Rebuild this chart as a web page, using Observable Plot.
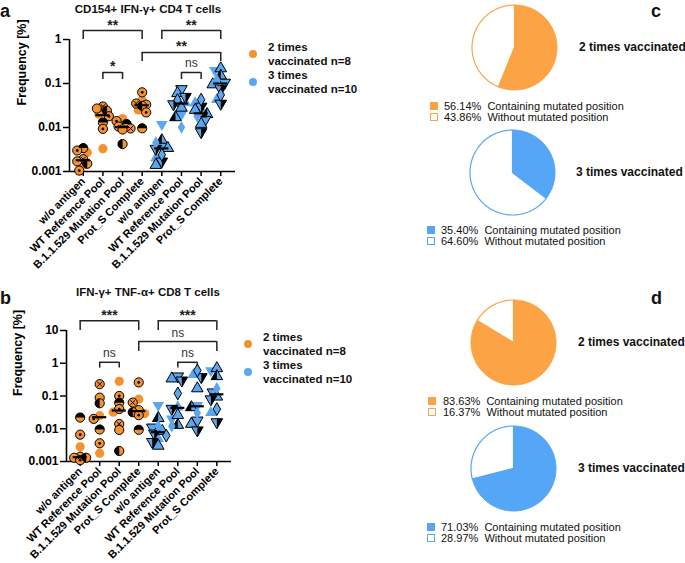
<!DOCTYPE html>
<html><head><meta charset="utf-8">
<script src="https://cdn.jsdelivr.net/npm/d3@7"></script>
<script src="https://cdn.jsdelivr.net/npm/@observablehq/plot@0.6"></script>
<style>
html,body{margin:0;padding:0;background:#fff;}
#fig{position:relative;width:685px;height:563px;overflow:hidden;font-family:"Liberation Sans",Arial,Helvetica,sans-serif;color:#111;}
#fig > *{position:absolute;}
.t{white-space:pre;line-height:1;transform:translateY(-50%);}
#fig svg g[aria-label$="tick label"]{font-weight:bold;}
</style></head><body><div id="fig"></div>
<script>
// ---------- data ----------
const categories = ["w/o antigen", "WT Reference Pool", "B.1.1.529 Mutation Pool", "Prot_S Complete"];
const groupNames = ["2 times\nvaccinated n=8", "3 times\nvaccinated n=10"];

// panel a: CD154+ IFN-γ+ CD4 T cells, frequency [%], one list per stimulus
const cd4Twice = [
  [0.0034, 0.003, 0.0027, 0.0019, 0.0017, 0.0015, 0.0014, 0.00105],
  [0.03, 0.027, 0.024, 0.02, 0.018, 0.013, 0.0093, 0.0033],
  [0.016, 0.014, 0.012, 0.0105, 0.0099, 0.0095, 0.009, 0.0042],
  [0.063, 0.042, 0.035, 0.033, 0.031, 0.025, 0.022, 0.0096]
];
const cd4Thrice = [
  [0.0118, 0.0051, 0.0045, 0.0037, 0.0034, 0.0033, 0.0024, 0.002, 0.0017, 0.0014],
  [0.075, 0.06, 0.05, 0.042, 0.036, 0.034, 0.028, 0.02, 0.017, 0.0101],
  [0.043, 0.036, 0.03, 0.025, 0.022, 0.02, 0.018, 0.015, 0.012, 0.0079],
  [0.22, 0.2, 0.15, 0.12, 0.105, 0.095, 0.075, 0.055, 0.043, 0.035]
];
// panel b: IFN-γ+ TNF-α+ CD8 T cells
const cd8Twice = [
  [0.022, 0.0066, 0.0028, 0.0014, 0.0013, 0.0013, 0.0012, 0.0011],
  [0.23, 0.089, 0.06, 0.025, 0.02, 0.0095, 0.0036, 0.0018],
  [0.28, 0.1, 0.062, 0.04, 0.032, 0.014, 0.0092, 0.0021],
  [0.26, 0.08, 0.063, 0.037, 0.032, 0.029, 0.026, 0.0093]
];
const cd8Thrice = [
  [0.052, 0.021, 0.012, 0.011, 0.0085, 0.0072, 0.0062, 0.005, 0.004, 0.003],
  [0.4, 0.34, 0.3, 0.12, 0.046, 0.041, 0.026, 0.02, 0.013, 0.012],
  [0.6, 0.45, 0.38, 0.17, 0.052, 0.045, 0.03, 0.018, 0.014, 0.009],
  [0.7, 0.6, 0.4, 0.17, 0.13, 0.095, 0.08, 0.04, 0.031, 0.016]
];
const cd4Ticks = [0.001, 0.01, 0.1, 1];
const cd8Ticks = [0.001, 0.01, 0.1, 1, 10];

// significance brackets (category index 1..8, bracket level and foot in data units)
const cd4Sig = [
  {from: 1, to: 4, top: 1.6, foot: 1.0, label: "**"},
  {from: 5, to: 8, top: 1.6, foot: 1.0, label: "**"},
  {from: 4, to: 8, top: 0.507, foot: 0.316, label: "**"},
  {from: 2, to: 3, top: 0.178, foot: 0.123, label: "*"},
  {from: 6, to: 7, top: 0.178, foot: 0.123, label: "ns"}
];
const cd8Sig = [
  {from: 1, to: 4, top: 20, foot: 10, label: "***"},
  {from: 5, to: 8, top: 20, foot: 10, label: "***"},
  {from: 4, to: 8, top: 4.6, foot: 2.3, label: "ns"},
  {from: 2, to: 3, top: 1.07, foot: 0.71, label: "ns"},
  {from: 6, to: 7, top: 1.07, foot: 0.71, label: "ns"}
];

// pies
const pieLabels = ["Containing mutated position", "Without mutated position"];
const pieTitles = ["2 times vaccinated", "3 times vaccinated"];
const cTwice = [56.14, 43.86];
const cThrice = [35.40, 64.60];
const dTwice = [83.63, 16.37];
const dThrice = [71.03, 28.97];

// ---------- styles ----------
const ORANGE = "#F6922E", BLUE = "#5AA6F0", PIE_ORANGE = "#FBA345", PIE_BLUE = "#56A6F8";
const circleStyles = ["halfTop", "dot", "plain", "cross", "ring", "halfLeft", "plain", "dot"];
const triStyles = [
  ["down", "plain"], ["up", "half"], ["diamond", "plain"], ["down", "stroke"], ["up", "stroke"],
  ["down", "half"], ["diamond", "stroke"], ["up", "plain"], ["down", "half"], ["up", "stroke"]
];
const fig = document.getElementById("fig");
const FONT = "Liberation Sans, Arial, Helvetica, sans-serif";

function addText(str, left, cy, size, weight, extra = {}) {
  const el = document.createElement("div");
  el.className = "t";
  el.textContent = str;
  Object.assign(el.style, {left: left + "px", top: cy + "px", fontSize: size + "px", fontWeight: weight}, extra);
  fig.appendChild(el);
  return el;
}
function place(node, left, top) {
  node.style.position = "absolute";
  node.style.left = left + "px";
  node.style.top = top + "px";
  fig.appendChild(node);
}

const halfCircle = {draw(ctx, size) { const r = Math.sqrt(size / Math.PI); ctx.moveTo(r, 0); ctx.arc(0, 0, r, 0, Math.PI, true); ctx.closePath(); }};
const sqrt3 = Math.sqrt(3);
const halfTri = {draw(ctx, size) { const y = -Math.sqrt(size / (sqrt3 * 3)); ctx.moveTo(0, y * 2); ctx.lineTo(0, -y); ctx.lineTo(sqrt3 * y, -y); ctx.closePath(); }};

function buildRows(twice, thrice, decadePx, unitPx) {
  const rows = [];
  [twice, thrice].forEach((arr, g) => {
    arr.forEach((vals, c) => {
      const cat = g * 4 + c + 1;
      const placed = [];
      vals.map((v, i) => ({v, i})).sort((a, b) => b.v - a.v).forEach(({v, i}) => {
        const py = -Math.log10(v) * decadePx;
        const cands = [0, -4, 4, -6, 6, -2, 2, -8, 8];
        const off = cands.find(o => placed.every(p => Math.hypot(p.ox - o, p.py - py) >= 5.5)) ?? 0;
        placed.push({ox: off, py});
        const row = {group: g, cat, value: v, x: cat + off / unitPx};
        if (g === 0) { row.shape = "circle"; row.style = circleStyles[(i + c * 3) % circleStyles.length]; }
        else { const s = triStyles[(i + c * 3) % triStyles.length]; row.shape = s[0]; row.style = s[1]; }
        rows.push(row);
      });
    });
  });
  return rows;
}

function scatterMarks(rows) {
  const C = rows.filter(d => d.group === 0), T = rows.filter(d => d.group === 1);
  const R = 4.6, RT = 4.3, RD = 3.9;
  const tri = T.filter(d => d.shape !== "diamond"), dia = T.filter(d => d.shape === "diamond");
  const rot = d => d.shape === "down" ? 180 : 0;
  return [
    Plot.dot(C.filter(d => d.style === "plain"), {x: "x", y: "value", r: R, fill: ORANGE}),
    Plot.dot(C.filter(d => d.style !== "plain"), {x: "x", y: "value", r: R, fill: ORANGE, stroke: "#000", strokeWidth: 1}),
    Plot.dot(C.filter(d => d.style.startsWith("half")), {x: "x", y: "value", r: R, symbol: halfCircle, fill: "#000", rotate: d => d.style === "halfLeft" ? -90 : 0}),
    Plot.dot(C.filter(d => d.style === "dot"), {x: "x", y: "value", r: 1.4, fill: "#000"}),
    Plot.dot(C.filter(d => d.style === "cross"), {x: "x", y: "value", r: 2.4, symbol: "times", stroke: "#000", strokeWidth: 1}),
    Plot.dot(tri.filter(d => d.style === "plain"), {x: "x", y: "value", r: RT, symbol: "triangle", rotate: rot, fill: BLUE}),
    Plot.dot(tri.filter(d => d.style !== "plain"), {x: "x", y: "value", r: RT, symbol: "triangle", rotate: rot, fill: BLUE, stroke: "#000", strokeWidth: 1}),
    Plot.dot(tri.filter(d => d.style === "half"), {x: "x", y: "value", r: RT, symbol: halfTri, rotate: rot, fill: "#000"}),
    Plot.dot(dia.filter(d => d.style === "plain"), {x: "x", y: "value", r: RD, symbol: "diamond", fill: BLUE}),
    Plot.dot(dia.filter(d => d.style !== "plain"), {x: "x", y: "value", r: RD, symbol: "diamond", fill: BLUE, stroke: "#000", strokeWidth: 1})
  ];
}

function scatterPlot({twice, thrice, ticks, sig, width, height, marginLeft, marginTop, marginBottom, xDomain, decadePx, labelDx}) {
  const unitPx = (width - marginLeft - 6) / (xDomain[1] - xDomain[0]);
  const rows = buildRows(twice, thrice, decadePx, unitPx);
  const med = d3.rollups(rows, v => d3.median(v, d => d.value), d => d.cat).map(([cat, m]) => ({cat, m}));
  const stars = sig.filter(d => d.label !== "ns"), ns = sig.filter(d => d.label === "ns");
  const yMin = ticks[0], yMax = ticks[ticks.length - 1];
  return Plot.plot({
    width, height, marginLeft, marginRight: 6, marginTop, marginBottom,
    style: {fontFamily: FONT, color: "#000", background: "transparent", overflow: "visible"},
    x: {type: "linear", domain: xDomain},
    y: {type: "log", domain: [yMin, yMax]},
    marks: [
      Plot.axisY(ticks, {tickSize: 6, tickPadding: 2, tickFormat: d => String(d), fontSize: 12, fontWeight: "bold", strokeWidth: 1.5, label: null}),
      Plot.axisX(d3.range(1, 9), {tickSize: 5, tickPadding: 3, tickRotate: -45, tickFormat: i => categories[(i - 1) % 4], fontSize: 11, fontWeight: "bold", strokeWidth: 1.5, label: null}),
      Plot.ruleX([xDomain[0]], {y1: yMin, y2: yMax, strokeWidth: 1.6}),
      Plot.ruleY([yMin], {strokeWidth: 1.6}),
      Plot.text(["Frequency [%]"], {frameAnchor: "left", text: d => d, rotate: -90, dx: labelDx, fontSize: 12.5, fontWeight: "bold"}),
      // brackets
      Plot.ruleY(sig, {y: "top", x1: "from", x2: "to", stroke: "#222", strokeWidth: 1.5}),
      Plot.ruleX(sig, {x: "from", y1: "top", y2: "foot", stroke: "#222", strokeWidth: 1.5}),
      Plot.ruleX(sig, {x: "to", y1: "top", y2: "foot", stroke: "#222", strokeWidth: 1.5}),
      Plot.text(stars, {x: d => (d.from + d.to) / 2, y: "top", text: "label", lineAnchor: "bottom", dy: -1, fontSize: 14, fontWeight: "bold", fill: "#222"}),
      Plot.text(ns, {x: d => (d.from + d.to) / 2, y: "top", text: "label", lineAnchor: "bottom", dy: -5, fontSize: 12, fill: "#333"}),
      ...scatterMarks(rows),
      Plot.ruleY(med, {y: "m", x1: d => d.cat - 0.36, x2: d => d.cat + 0.36, stroke: "#000", strokeWidth: 2.2})
    ]
  });
}

// panel a
place(scatterPlot({twice: cd4Twice, thrice: cd4Thrice, ticks: cd4Ticks, sig: cd4Sig, width: 241, height: 270,
  marginLeft: 69, marginTop: 39, marginBottom: 99, xDomain: [0.3, 8.75], decadePx: 44, labelDx: -48}), 0, 0);
// panel b
place(scatterPlot({twice: cd8Twice, thrice: cd8Thrice, ticks: cd8Ticks, sig: cd8Sig, width: 237, height: 280,
  marginLeft: 66, marginTop: 50, marginBottom: 99, xDomain: [0.3, 8.75], decadePx: 32.8, labelDx: -49}), 0, 280);

// titles and letters
addText("a", 0, 11, 18, "bold");
addText("b", 0, 298, 18, "bold");
addText("c", 651, 11, 18, "bold");
addText("d", 651, 298, 18, "bold");
addText("CD154+ IFN-γ+ CD4 T cells", 148, 10, 11.5, "bold", {transform: "translate(-50%,-50%)"});
addText("IFN-γ+ TNF-α+ CD8 T cells", 148, 293, 11.5, "bold", {transform: "translate(-50%,-50%)"});

// scatter legends
function scatterLegend(x, y0) {
  [ORANGE, BLUE].forEach((col, k) => {
    const cy = y0 + k * 28;
    const dot = document.createElement("div");
    Object.assign(dot.style, {left: (x - 4) + "px", top: (cy + 2) + "px", width: "8px", height: "8px", borderRadius: "50%", background: col});
    fig.appendChild(dot);
    const [l1, l2] = groupNames[k].split("\n");
    addText(l1, x + 15, cy, 11.5, "bold");
    addText(l2, x + 15, cy + 14, 11.5, "bold");
  });
}
scatterLegend(253, 48);
scatterLegend(248, 338);

// pies
function wedge(p0, p1) {
  const n = Math.max(2, Math.ceil((p1 - p0) * 180));
  const pts = [{x: 0, y: 0}];
  for (let j = 0; j <= n; j++) {
    const t = 2 * Math.PI * (p0 + (p1 - p0) * j / n);
    pts.push({x: Math.sin(t), y: Math.cos(t)});
  }
  pts.push({x: 0, y: 0});
  return pts;
}
function piePlot(vals, color) {
  const p = vals[0] / (vals[0] + vals[1]);
  const R = 45 / 42.5;
  return Plot.plot({
    width: 90, height: 90, margin: 0,
    x: {domain: [-R, R], axis: null}, y: {domain: [-R, R], axis: null},
    style: {background: "transparent", overflow: "visible"},
    marks: [
      Plot.line(wedge(p, 1), {x: "x", y: "y", fill: "#fff", stroke: color, strokeWidth: 1.2}),
      Plot.line(wedge(0, p), {x: "x", y: "y", fill: color, stroke: color, strokeWidth: 1})
    ]
  });
}
function pieBlock(vals, color, title, cx, cy, titleX, sqX, textX, legY) {
  place(piePlot(vals, color), cx - 45, cy - 45);
  addText(title, titleX, cy, 12, "bold");
  vals.forEach((v, k) => {
    const sq = document.createElement("div");
    Object.assign(sq.style, {left: sqX + "px", top: (legY + k * 11 - 4) + "px", width: "8px", height: "8px", boxSizing: "border-box",
      background: k === 0 ? color : "#fff", border: "1px solid " + color});
    fig.appendChild(sq);
    addText(v.toFixed(2) + "%  " + pieLabels[k], textX, legY + k * 11, 11, "normal");
  });
}
pieBlock(cTwice, PIE_ORANGE, pieTitles[0], 514, 47, 579, 430, 444, 106);
pieBlock(cThrice, PIE_BLUE, pieTitles[1], 511.7, 171.7, 576, 427, 441, 230);
pieBlock(dTwice, PIE_ORANGE, pieTitles[0], 512.5, 341.7, 578, 428, 443, 401);
pieBlock(dThrice, PIE_BLUE, pieTitles[1], 513, 467.8, 578, 427, 441, 527);
</script></body></html>
